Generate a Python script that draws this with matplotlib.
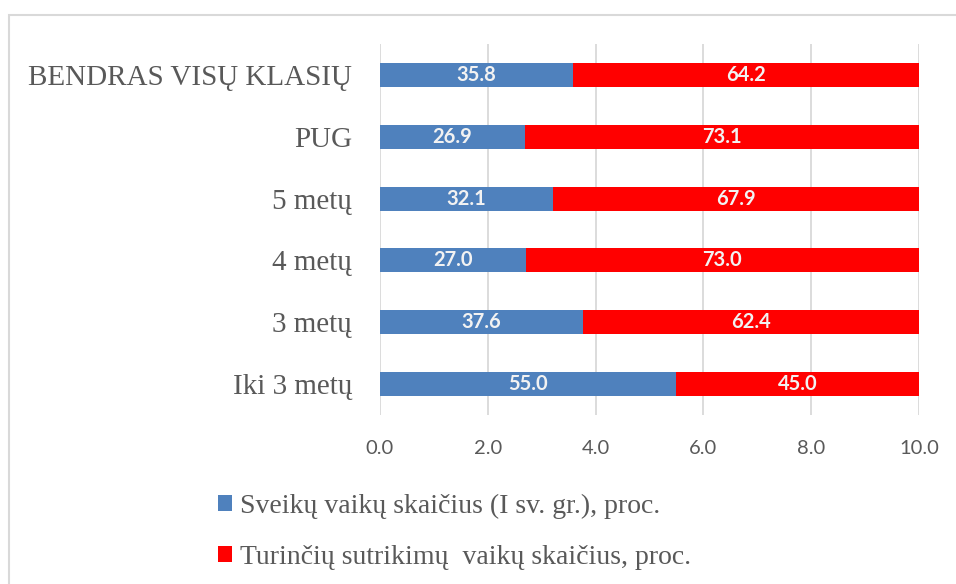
import matplotlib
matplotlib.use("Agg")
import matplotlib.pyplot as plt
from matplotlib.patches import Rectangle

categories = ["Iki 3 metų", "3 metų", "4 metų", "5 metų", "PUG", "BENDRAS VISŲ KLASIŲ"]
healthy = [55.0, 37.6, 27.0, 32.1, 26.9, 35.8]
disorders = [45.0, 62.4, 73.0, 67.9, 73.1, 64.2]
tick_values = [0, 20, 40, 60, 80, 100]
tick_labels = ["0.0", "2.0", "4.0", "6.0", "8.0", "10.0"]
series_names = ["Sveikų vaikų skaičius (I sv. gr.), proc.",
                "Turinčių sutrikimų  vaikų skaičius, proc."]

BLUE = "#4F81BD"
RED = "#FF0000"
GRID = "#D9D9D9"
TXT = "#595959"

fig = plt.figure(figsize=(9.56, 5.84), dpi=100)
fig.patch.set_facecolor("white")
fig.patches.append(Rectangle((9/956, -0.1), 1.2, 1 - 15/584 + 0.1,
                             transform=fig.transFigure, fill=False,
                             edgecolor=GRID, linewidth=1.5))

ax = fig.add_axes([380/956, 1 - 415/584, (919 - 380)/956, (415 - 44)/584])
y = list(range(len(categories)))
h = 0.39
b1 = ax.barh(y, healthy, height=h, color=BLUE, zorder=3, label=series_names[0])
b2 = ax.barh(y, disorders, left=healthy, height=h, color=RED, zorder=3, label=series_names[1])

for yi, v1, v2 in zip(y, healthy, disorders):
    ax.text(v1 / 2, yi, f"{v1:.1f}", ha="center", va="center", color="#F2F2F2",
            fontsize=14.5, fontweight="bold", family="Lato", zorder=4)
    ax.text(v1 + v2 / 2, yi, f"{v2:.1f}", ha="center", va="center", color="#F2F2F2",
            fontsize=14.5, fontweight="bold", family="Lato", zorder=4)

ax.set_xlim(0, 100)
ax.set_ylim(-0.5, len(categories) - 0.5)
ax.set_xticks(tick_values)
ax.set_xticklabels(tick_labels, family="Lato", fontsize=14.5, color=TXT)
ax.set_yticks(y)
ax.set_yticklabels(categories, family="Liberation Serif", fontsize=21, color=TXT)
ax.tick_params(axis="x", length=0, pad=18)
ax.tick_params(axis="y", length=0, pad=20)
for s in ax.spines.values():
    s.set_visible(False)
ax.xaxis.grid(True, color=GRID, linewidth=1.3, zorder=0)
ax.set_axisbelow(True)

leg = fig.legend(handles=[b1, b2], loc="upper left", bbox_to_anchor=(218/956, 1 - 494/584),
                 frameon=False, prop={"family": "Liberation Serif", "size": 20},
                 handlelength=0.5, handleheight=0.5, handletextpad=0.3,
                 labelspacing=0.93, borderaxespad=0, borderpad=0)
for t in leg.get_texts():
    t.set_color(TXT)

fig.savefig("out.png", dpi=100)
